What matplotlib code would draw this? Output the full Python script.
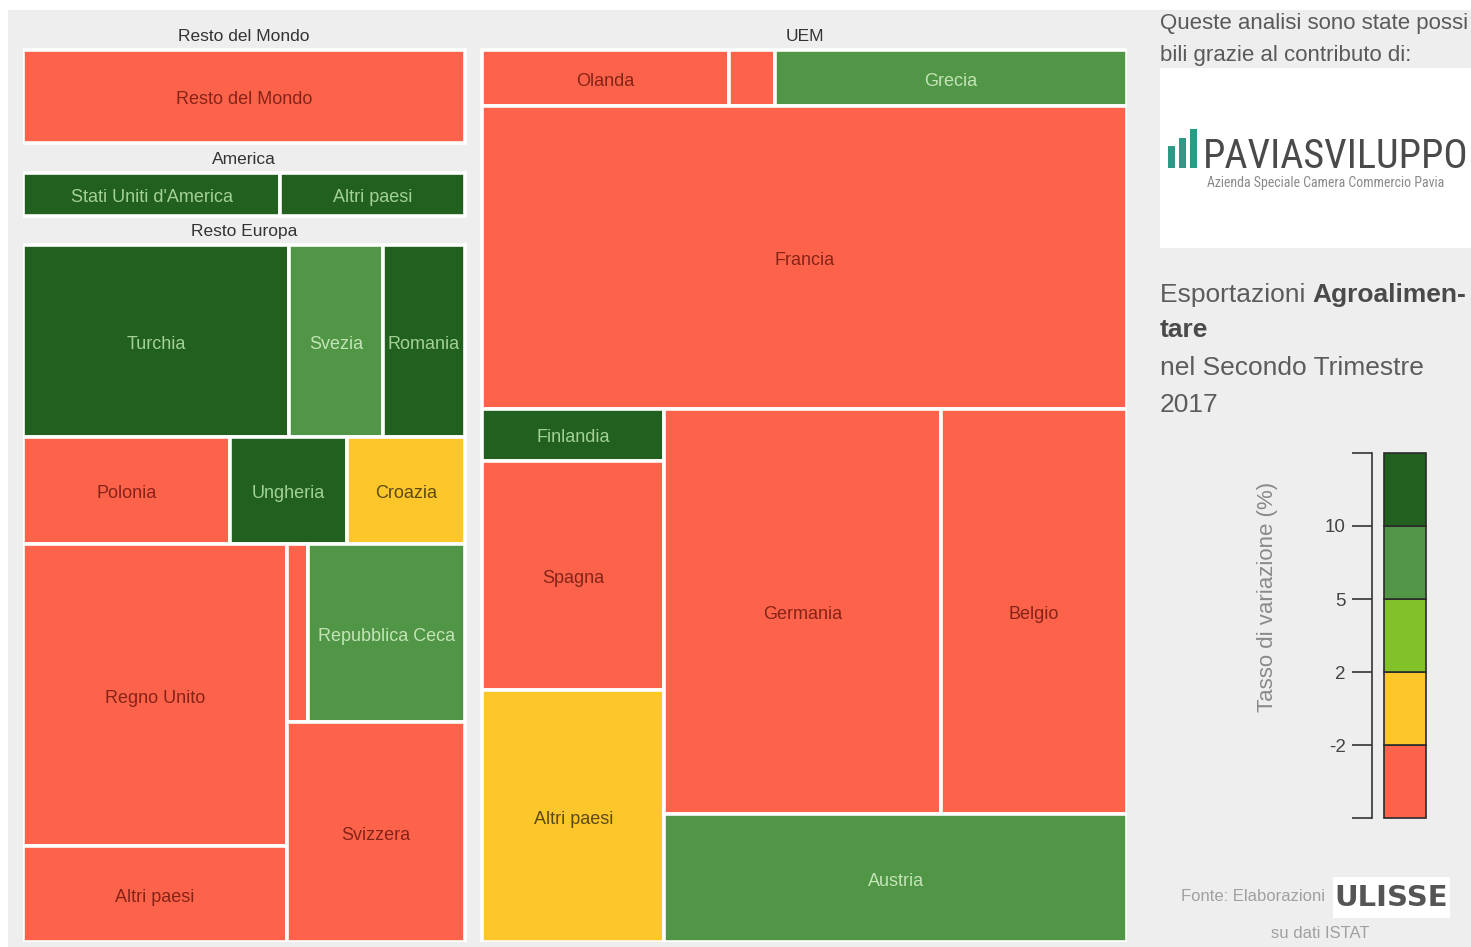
import matplotlib
matplotlib.use('Agg')
import matplotlib.pyplot as plt
from matplotlib.patches import Rectangle
from matplotlib.colors import BoundaryNorm, ListedColormap
from matplotlib import font_manager

# ---------------- DATA ----------------
group_names = ['Resto del Mondo', 'America', 'Resto Europa', 'UEM']

rdm_countries = ['Resto del Mondo']
rdm_values = [16.1]
rdm_rates = [-6.0]

america_countries = ["Stati Uniti d'America", 'Altri paesi']
america_values = [5.5, 3.95]
america_rates = [14.0, 12.0]

europa_countries = ['Turchia', 'Svezia', 'Romania', 'Polonia', 'Ungheria', 'Croazia',
                    'Regno Unito', 'Altri paesi', '', 'Repubblica Ceca', 'Svizzera']
europa_values = [16.0, 5.65, 4.95, 6.9, 3.9, 3.95, 25.0, 7.9, 1.2, 8.75, 12.25]
europa_rates = [18.0, 7.0, 12.0, -8.0, 15.0, 0.5, -6.0, -10.0, -5.0, 8.0, -4.0]

uem_countries = ['Olanda', '', 'Grecia', 'Francia', 'Finlandia', 'Spagna', 'Altri paesi',
                 'Germania', 'Belgio', 'Austria']
uem_values = [4.28, 0.80, 6.12, 60.35, 2.95, 12.95, 14.2, 34.7, 23.4, 18.25]
uem_rates = [-5.0, -12.0, 6.0, -7.0, 20.0, -9.0, 1.0, -4.0, -6.0, 9.0]

rate_bounds = [-2, 2, 5, 10]
rate_colors = ['#fd634b', '#fdc62b', '#82c12a', '#519546', '#226020']
label_colors = ['#862317', '#5b4a12', '#2f4a10', '#c3e4b6', '#a2d292']

# split structure of each group (H = left to right, V = top to bottom)
layout_rdm = 0
layout_america = ('H', [0, 1])
layout_europa = ('V', [('H', [0, 1, 2]), ('H', [3, 4, 5]),
                       ('H', [('V', [6, 7]), ('V', [('H', [8, 9]), 10])])])
layout_uem = ('V', [('H', [0, 1, 2]), 3,
                    ('H', [('V', [4, 5, 6]), ('V', [('H', [7, 8]), 9])])])

# ---------------- FONTS ----------------
avail = {f.name for f in font_manager.fontManager.ttflist}
plt.rcParams['font.family'] = ['Liberation Sans', 'DejaVu Sans']
narrow = 'Liberation Sans Narrow' if 'Liberation Sans Narrow' in avail else (
    'Roboto Condensed' if 'Roboto Condensed' in avail else 'Liberation Sans')
heavy = 'DejaVu Sans Condensed' if 'DejaVu Sans Condensed' in avail else 'DejaVu Sans'

W, H = 1471, 947
fig = plt.figure(figsize=(W / 100, H / 100), dpi=100, facecolor='#eeeeee')


def fx(x):
    return x / W


def fy(y):
    return 1 - y / H


fig.add_artist(Rectangle((0, fy(10)), 1, 10 / H, transform=fig.transFigure,
                         fc='white', ec='none', zorder=0))
fig.add_artist(Rectangle((0, 0), fx(8), 1, transform=fig.transFigure,
                         fc='white', ec='none', zorder=0))

cmap = ListedColormap(rate_colors)
norm = BoundaryNorm([-1000] + rate_bounds + [1000], cmap.N)

# ---------------- TREEMAP ----------------
TW, TH = 1104, 920
ax = fig.add_axes([fx(23), fy(942), TW / W, TH / H])
ax.set_xlim(0, TW)
ax.set_ylim(TH, 0)
ax.axis('off')


def node_value(node, vals):
    if isinstance(node, int):
        return vals[node]
    return sum(node_value(c, vals) for c in node[1])


def split(node, vals, x, y, w, h, out):
    if isinstance(node, int):
        out.append((node, x, y, w, h))
        return
    d, ch = node
    tot = node_value(node, vals)
    pos = x if d == 'H' else y
    for c in ch:
        f = node_value(c, vals) / tot
        if d == 'H':
            split(c, vals, pos, y, w * f, h, out)
            pos += w * f
        else:
            split(c, vals, x, pos, w, h * f, out)
            pos += h * f


groups = [
    (rdm_countries, rdm_values, rdm_rates, layout_rdm),
    (america_countries, america_values, america_rates, layout_america),
    (europa_countries, europa_values, europa_rates, layout_europa),
    (uem_countries, uem_values, uem_rates, layout_uem),
]
group_tot = [sum(g[1]) for g in groups]
col_gap = 17
row_gap = 1.5
header = 28
left_tot = sum(group_tot[:3])
total = left_tot + group_tot[3]
left_w = (TW - col_gap) * left_tot / total
uem_w = (TW - col_gap) * group_tot[3] / total

group_rects = []
ypos = 0
avail_h = TH - 2 * row_gap
for gi in range(3):
    gh = avail_h * group_tot[gi] / left_tot
    group_rects.append((0, ypos, left_w, gh))
    ypos += gh + row_gap
group_rects.append((left_w + col_gap, 0, uem_w, TH))

renderer = fig.canvas.get_renderer()
for gi, (names, vals, rates, lay) in enumerate(groups):
    gx, gy, gw, gh = group_rects[gi]
    ax.text(gx + gw / 2, gy + header / 2 + 0.5, group_names[gi], ha='center', va='center',
            fontsize=12.5, color='#333333')
    out = []
    split(lay, vals, gx, gy + header, gw, gh - header, out)
    for idx, x, y, w, h in out:
        ci = int(norm(rates[idx]))
        ax.add_patch(Rectangle((x, y), w, h, facecolor=rate_colors[ci], edgecolor='white',
                               linewidth=2.6))
        if names[idx]:
            t = ax.text(x + w / 2, y + h / 2 + 3, names[idx], ha='center', va='center',
                        fontsize=13, color=label_colors[ci])
            bb = t.get_window_extent(renderer)
            if bb.width > w + 2 or bb.height > h:
                t.remove()

# ---------------- COLOR LEGEND ----------------
cax = fig.add_axes([fx(1384), fy(818), 42 / W, 365 / H])
n = len(rate_colors)
for i, c in enumerate(rate_colors):
    cax.bar(0.5, 1, bottom=i, width=1, color=c, edgecolor='#2b2b2b', linewidth=1.2,
            clip_on=False)
cax.set_xlim(0, 1)
cax.set_ylim(0, n)
cax.set_facecolor('none')
for s in ['top', 'right', 'bottom']:
    cax.spines[s].set_visible(False)
cax.spines['left'].set_position(('outward', 9))
cax.spines['left'].set_color('#333333')
cax.spines['left'].set_linewidth(1.2)
cax.set_xticks([])
cax.set_yticks(range(n + 1))
cax.set_yticklabels([''] + [str(b) for b in rate_bounds] + [''])
cax.tick_params(axis='y', length=14.5, width=1.2, color='#333333', labelsize=13.5,
                labelcolor='#444444', pad=4)
fig.text(fx(1268), fy(597), 'Tasso di variazione (%)', rotation=90, ha='center',
         va='center', fontsize=16, color='#8a8a8a')

# ---------------- SIDE PANEL ----------------
fig.text(fx(1160), fy(23), 'Queste analisi sono state possi', ha='left', va='center',
         fontsize=16, color='#5a5a5a')
fig.text(fx(1160), fy(55), 'bili grazie al contributo di:', ha='left', va='center',
         fontsize=16, color='#5a5a5a')

fig.add_artist(Rectangle((fx(1160), fy(248)), (W - 1160) / W, 180 / H,
                         transform=fig.transFigure, fc='white', ec='none'))
for (bx0, bx1, btop) in [(1168, 1175, 146), (1179, 1186, 138), (1190, 1197, 129)]:
    fig.add_artist(Rectangle((fx(bx0), fy(168)), (bx1 - bx0) / W, (168 - btop) / H,
                             transform=fig.transFigure, fc='#2e9a85', ec='none'))
fig.text(fx(1203), fy(168), 'PAVIASVILUPPO', ha='left', va='baseline',
         fontsize=29 if narrow != 'Liberation Sans' else 23, family=narrow,
         color='#4a4a4a')
fig.text(fx(1207), fy(183), 'Azienda Speciale Camera Commercio Pavia', ha='left',
         va='center', fontsize=10 if narrow != 'Liberation Sans' else 8.5, family=narrow,
         color='#8a8a8a')

t1 = fig.text(fx(1160), fy(295), 'Esportazioni ', ha='left', va='center', fontsize=19,
              color='#5c5c5c')
bb1 = t1.get_window_extent(renderer)
fig.text(bb1.x1 / W, fy(295), 'Agroalimen-', ha='left', va='center', fontsize=19,
         fontweight='bold', color='#4a4a4a')
fig.text(fx(1160), fy(330), 'tare', ha='left', va='center', fontsize=19,
         fontweight='bold', color='#4a4a4a')
fig.text(fx(1160), fy(368), 'nel Secondo Trimestre', ha='left', va='center', fontsize=19,
         color='#5c5c5c')
fig.text(fx(1160), fy(405), '2017', ha='left', va='center', fontsize=19,
         color='#5c5c5c')

fig.text(fx(1181), fy(896), 'Fonte: Elaborazioni', ha='left', va='center', fontsize=12,
         color='#a0a0a0')
fig.add_artist(Rectangle((fx(1333), fy(918)), 117 / W, 41 / H,
                         transform=fig.transFigure, fc='white', ec='none'))
fig.text(fx(1391), fy(898), 'ULISSE', ha='center', va='center', fontsize=21,
         fontweight='heavy', family=heavy, color='#555555')
fig.text(fx(1320), fy(933), 'su dati ISTAT', ha='center', va='center', fontsize=12,
         color='#a0a0a0')

fig.savefig('out.png', dpi=100, facecolor=fig.get_facecolor())
